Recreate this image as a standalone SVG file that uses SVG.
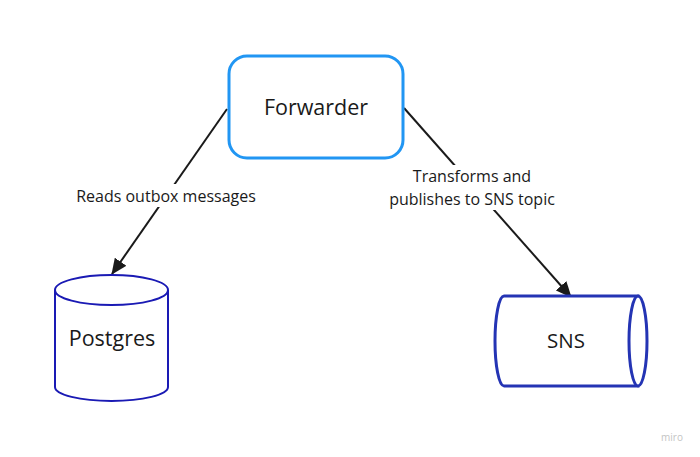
<svg xmlns="http://www.w3.org/2000/svg" width="700" height="457" viewBox="0 0 700 457">
  <style>
    .lbl { font-family: "Open Sans", "Liberation Sans", sans-serif; fill: #1a1a1a; text-anchor: middle; }
    .node { font-size: 21.5px; }
    .edge { font-size: 16px; }
    .conn { stroke: #1a1a1a; stroke-width: 2; fill: none; }
    .cyl { fill: #ffffff; stroke: #1a1ab4; stroke-width: 2; }
  </style>
  <defs>
    <marker id="arrow" viewBox="0 0 16 14" refX="15" refY="7" markerWidth="16" markerHeight="14" markerUnits="userSpaceOnUse" orient="auto">
      <path d="M0,0 L16,7 L0,14 Z" fill="#1a1a1a"/>
    </marker>
  </defs>
  <rect width="700" height="457" fill="#ffffff"/>

  <g id="connectors">
    <g id="edge-forwarder-postgres">
      <line class="conn" x1="227" y1="109" x2="112" y2="274" marker-end="url(#arrow)"/>
      <rect x="72" y="184" width="190" height="23" fill="#ffffff"/>
      <text class="lbl edge" x="166" y="202">Reads outbox messages</text>
    </g>
    <g id="edge-forwarder-sns">
      <line class="conn" x1="404" y1="108" x2="571" y2="297" marker-end="url(#arrow)"/>
      <rect x="383" y="165" width="180" height="45" fill="#ffffff"/>
      <text class="lbl edge" x="472" y="182">Transforms and</text>
      <text class="lbl edge" x="472" y="205">publishes to SNS topic</text>
    </g>
  </g>

  <g id="forwarder">
    <rect x="229" y="56" width="174" height="102" rx="18" ry="18" fill="#ffffff" stroke="#2196f3" stroke-width="3"/>
    <text class="lbl node" x="316" y="115">Forwarder</text>
  </g>

  <g id="postgres">
    <path class="cyl" d="M55,290 L55,387 A56.5,14 0 0 0 168,387 L168,290"/>
    <ellipse class="cyl" cx="111.5" cy="290" rx="56.5" ry="15"/>
    <text class="lbl node" x="112" y="346">Postgres</text>
  </g>

  <g id="sns">
    <path d="M504,296 L638,296 L638,386 L504,386 A9,45 0 0 1 504,296 Z" fill="#ffffff" stroke="#2434b4" stroke-width="3"/>
    <ellipse cx="638" cy="341" rx="9" ry="45" fill="#ffffff" stroke="#2434b4" stroke-width="3"/>
    <text class="lbl node" x="566" y="348" style="font-size:20.5px">SNS</text>
  </g>

  <text x="672" y="441" style="font-family:'Open Sans','Liberation Sans',sans-serif;font-size:10px;fill:#c4c4c4;text-anchor:middle">miro</text>
</svg>
